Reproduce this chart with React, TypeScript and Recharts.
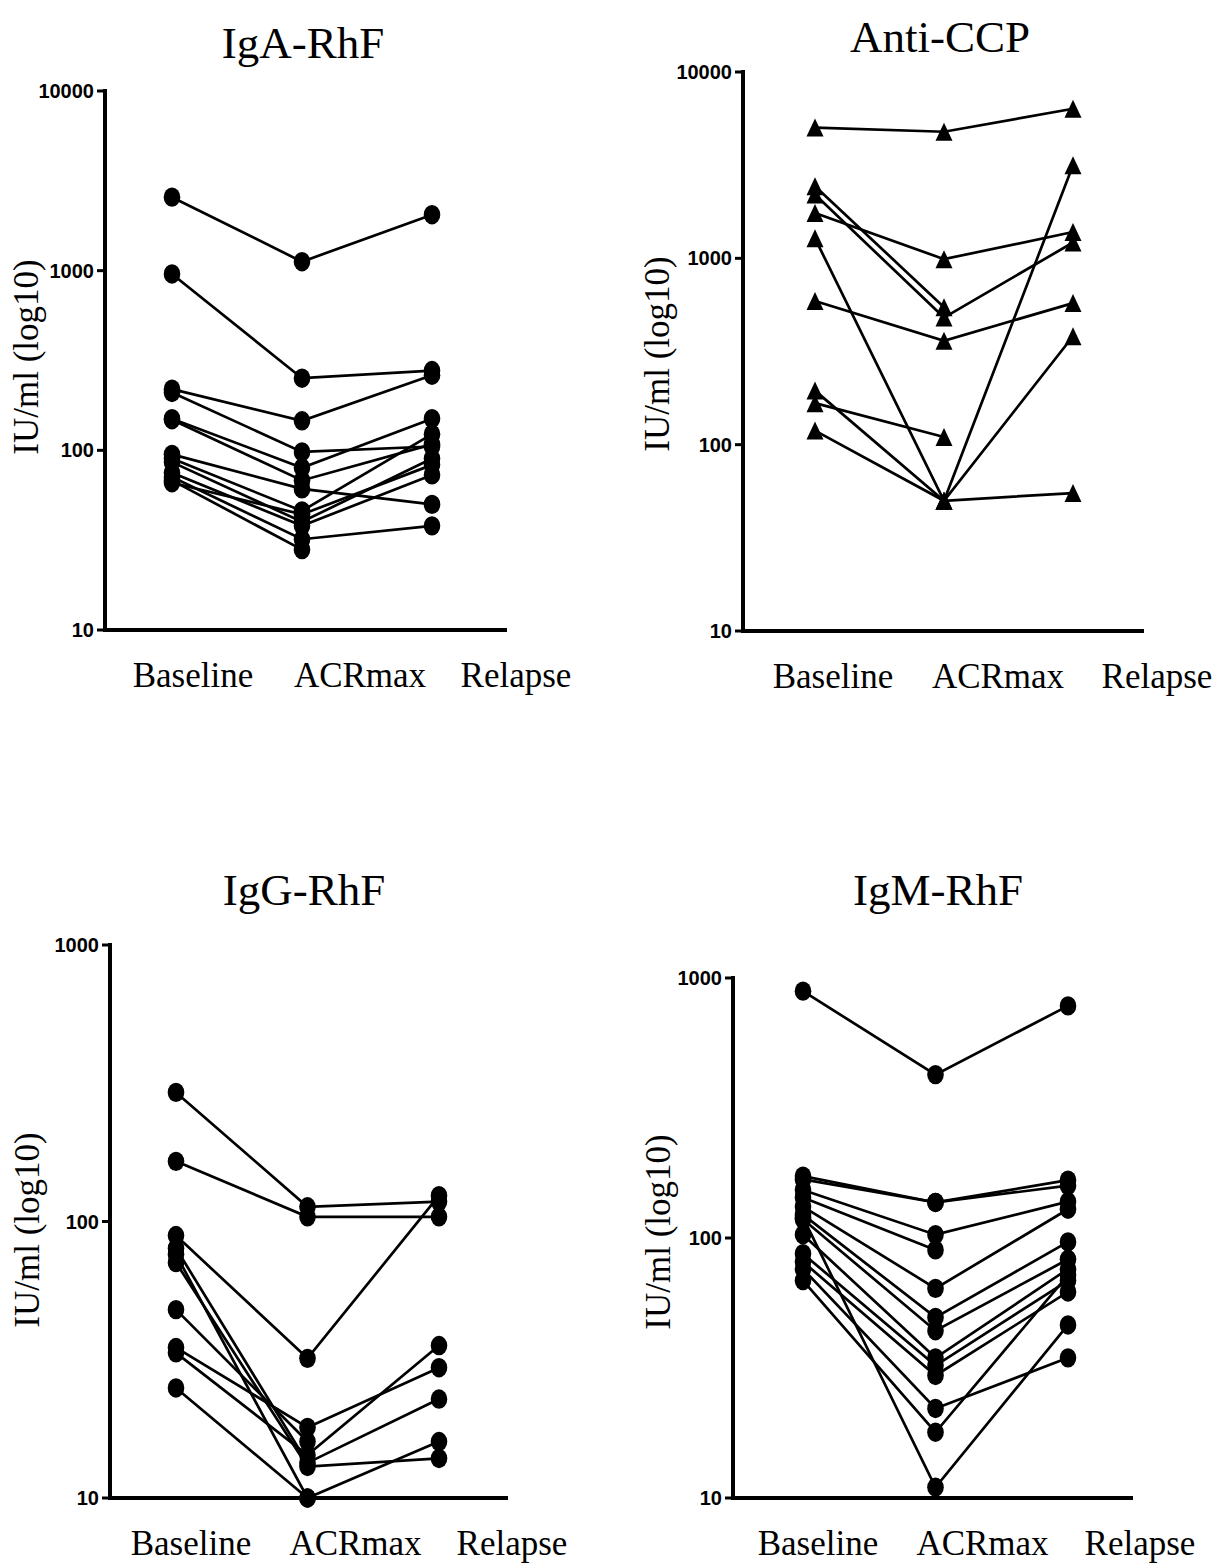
import React from "react";
import { LineChart, Line, XAxis, YAxis } from "recharts";

const CATS = ["Baseline", "ACRmax", "Relapse"];

// IgA-RhF, one entry per patient
const igaBaseline = [2565, 959, 219, 210, 150, 148, 95, 90, 86, 75, 71, 68, 66];
const igaAcrmax = [1122, 252, 146, 98, 80, 68, 61, 46, 40, 38, 32, 28, 44];
const igaRelapse = [2048, 278, 262, 105, 150, 108, 50, 123, 90, 73, 38, null, 83];

// Anti-CCP
const ccpBaseline = [5030, 2440, 2200, 1750, 1280, 590, 195, 167, 119];
const ccpAcrmax = [4780, 547, 481, 990, 50, 361, 50, 110, 50];
const ccpRelapse = [6350, null, 1216, 1384, 3160, 575, 382, null, 55];

// IgG-RhF
const iggBaseline = [293, 165, 89, 80, 76, 71, 48, 35, 33.5, 25];
const iggAcrmax = [113, 104, 32, 13.4, 10, 13, 16, 18, 14.3, 10];
const iggRelapse = [118, 104, 124, 22.8, 16, 13.9, null, 29.6, 35.6, null];

// IgM-RhF
const igmBaseline = [890, 173, 168, 153, 143, 132, 123, 118, 103, 87, 81, 76, 68.6, 120];
const igmAcrmax = [425, 137, 137, 103, 90, 64, 49.5, 44, 34.6, 32.3, 29.6, 22.1, 17.9, 11];
const igmRelapse = [781, 167, 159, 138, null, 129, 96.6, 82.8, 76, 68.6, 62, 34.6, 72, 46.3];

const ticks4 = [10, 100, 1000, 10000];
const ticks3 = [10, 100, 1000];

const SERIF = "'Liberation Serif', 'Times New Roman', serif";
const SANS = "'Liberation Sans', Arial, sans-serif";

type Row = { cat: string; [k: string]: number | string | null };

function buildRows(b: (number | null)[], a: (number | null)[], r: (number | null)[]): Row[] {
  const cols = [b, a, r];
  return CATS.map((c, ci) => {
    const row: Row = { cat: c };
    cols[ci].forEach((v, i) => {
      row[`p${i}`] = v;
    });
    return row;
  });
}

// marker shapes
const makeDot = (shape: "circle" | "triangle") => (props: any) => {
  const { cx, cy, index, dataKey, value } = props;
  const key = `${dataKey}-${index}`;
  if (cx == null || cy == null || value == null) return <g key={key} />;
  if (shape === "triangle") {
    const w = 17;
    const h = 18;
    return (
      <path
        key={key}
        d={`M${cx},${cy - h / 2}L${cx + w / 2},${cy + h / 2}L${cx - w / 2},${cy + h / 2}Z`}
        fill="#000"
      />
    );
  }
  return <ellipse key={key} cx={cx} cy={cy} rx={8.3} ry={9.7} fill="#000" />;
};

// category labels sit to the right of the points
const makeTick = (offsets: number[]) => (props: any) => {
  const { x, y, payload } = props;
  const i = CATS.indexOf(payload.value);
  return (
    <text
      x={x + (offsets[i] ?? 0)}
      y={y + 57}
      textAnchor="middle"
      fontFamily={SERIF}
      fontSize={35}
      fill="#000"
    >
      {payload.value}
    </text>
  );
};

type PanelProps = {
  left: number;
  top: number;
  width: number;
  height: number;
  margin: { top: number; right: number; bottom: number; left: number };
  yWidth: number;
  xHeight: number;
  pad: { left: number; right: number };
  domain: [number, number];
  ticks: number[];
  offsets: number[];
  shape: "circle" | "triangle";
  b: (number | null)[];
  a: (number | null)[];
  r: (number | null)[];
};

function Panel(p: PanelProps) {
  const rows = buildRows(p.b, p.a, p.r);
  const dot = makeDot(p.shape);
  return (
    <div style={{ position: "absolute", left: p.left, top: p.top }}>
      <LineChart width={p.width} height={p.height} data={rows} margin={p.margin}>
        <XAxis
          dataKey="cat"
          type="category"
          padding={p.pad}
          interval={0}
          tickLine={false}
          tickSize={0}
          tickMargin={0}
          height={p.xHeight}
          axisLine={{ stroke: "#000", strokeWidth: 4, strokeLinecap: "square" }}
          tick={makeTick(p.offsets)}
        />
        <YAxis
          type="number"
          scale="log"
          domain={p.domain}
          ticks={p.ticks}
          interval={0}
          width={p.yWidth}
          tickSize={8}
          tickMargin={3}
          tickLine={{ stroke: "#000", strokeWidth: 3 }}
          axisLine={{ stroke: "#000", strokeWidth: 4, strokeLinecap: "square" }}
          tick={{ fill: "#000", fontSize: 20, fontWeight: "bold", fontFamily: SANS }}
        />
        {p.b.map((_, i) => (
          <Line
            key={i}
            dataKey={`p${i}`}
            stroke="#000"
            strokeWidth={2.7}
            dot={dot}
            activeDot={false}
            connectNulls={false}
            isAnimationActive={false}
          />
        ))}
      </LineChart>
    </div>
  );
}

// titles and axis titles, page coordinates
const titles = [
  { text: "IgA-RhF", x: 303, y: 58 },
  { text: "Anti-CCP", x: 940, y: 52 },
  { text: "IgG-RhF", x: 304, y: 905 },
  { text: "IgM-RhF", x: 938, y: 905 },
];
const yTitles = [
  { x: 26, y: 357 },
  { x: 657, y: 354 },
  { x: 27, y: 1230 },
  { x: 658, y: 1232 },
];

export default function App() {
  return (
    <div
      style={{
        position: "absolute",
        left: 0,
        top: 0,
        width: 1218,
        height: 1567,
        background: "#fff",
        overflow: "hidden",
      }}
    >
      <Panel
        left={0}
        top={0}
        width={609}
        height={720}
        margin={{ top: 91, right: 104, bottom: 10, left: 0 }}
        yWidth={105}
        xHeight={80}
        pad={{ left: 67, right: 73 }}
        domain={[10, 10000]}
        ticks={ticks4}
        offsets={[21, 58, 84]}
        shape="circle"
        b={igaBaseline}
        a={igaAcrmax}
        r={igaRelapse}
      />
      <Panel
        left={609}
        top={0}
        width={609}
        height={720}
        margin={{ top: 72, right: 76, bottom: 9, left: 0 }}
        yWidth={134}
        xHeight={80}
        pad={{ left: 72, right: 69 }}
        domain={[10, 10000]}
        ticks={ticks4}
        offsets={[18, 54, 84]}
        shape="triangle"
        b={ccpBaseline}
        a={ccpAcrmax}
        r={ccpRelapse}
      />
      <Panel
        left={0}
        top={800}
        width={609}
        height={767}
        margin={{ top: 145, right: 103, bottom: 9, left: 0 }}
        yWidth={110}
        xHeight={60}
        pad={{ left: 66, right: 67 }}
        domain={[10, 1000]}
        ticks={ticks3}
        offsets={[15, 48, 73]}
        shape="circle"
        b={iggBaseline}
        a={iggAcrmax}
        r={iggRelapse}
      />
      <Panel
        left={609}
        top={800}
        width={609}
        height={767}
        margin={{ top: 178, right: 87, bottom: 9, left: 0 }}
        yWidth={124}
        xHeight={60}
        pad={{ left: 70, right: 63 }}
        domain={[10, 1000]}
        ticks={ticks3}
        offsets={[15, 47, 72]}
        shape="circle"
        b={igmBaseline}
        a={igmAcrmax}
        r={igmRelapse}
      />
      <svg
        width={1218}
        height={1567}
        style={{ position: "absolute", left: 0, top: 0, pointerEvents: "none" }}
      >
        {titles.map((t) => (
          <text
            key={t.text}
            x={t.x}
            y={t.y}
            textAnchor="middle"
            fontFamily={SERIF}
            fontSize={45}
            fill="#000"
          >
            {t.text}
          </text>
        ))}
        {yTitles.map((t, i) => (
          <text
            key={i}
            x={t.x}
            y={t.y}
            transform={`rotate(-90 ${t.x} ${t.y})`}
            textAnchor="middle"
            dominantBaseline="central"
            fontFamily={SERIF}
            fontSize={35}
            fill="#000"
          >
            IU/ml (log10)
          </text>
        ))}
      </svg>
    </div>
  );
}
